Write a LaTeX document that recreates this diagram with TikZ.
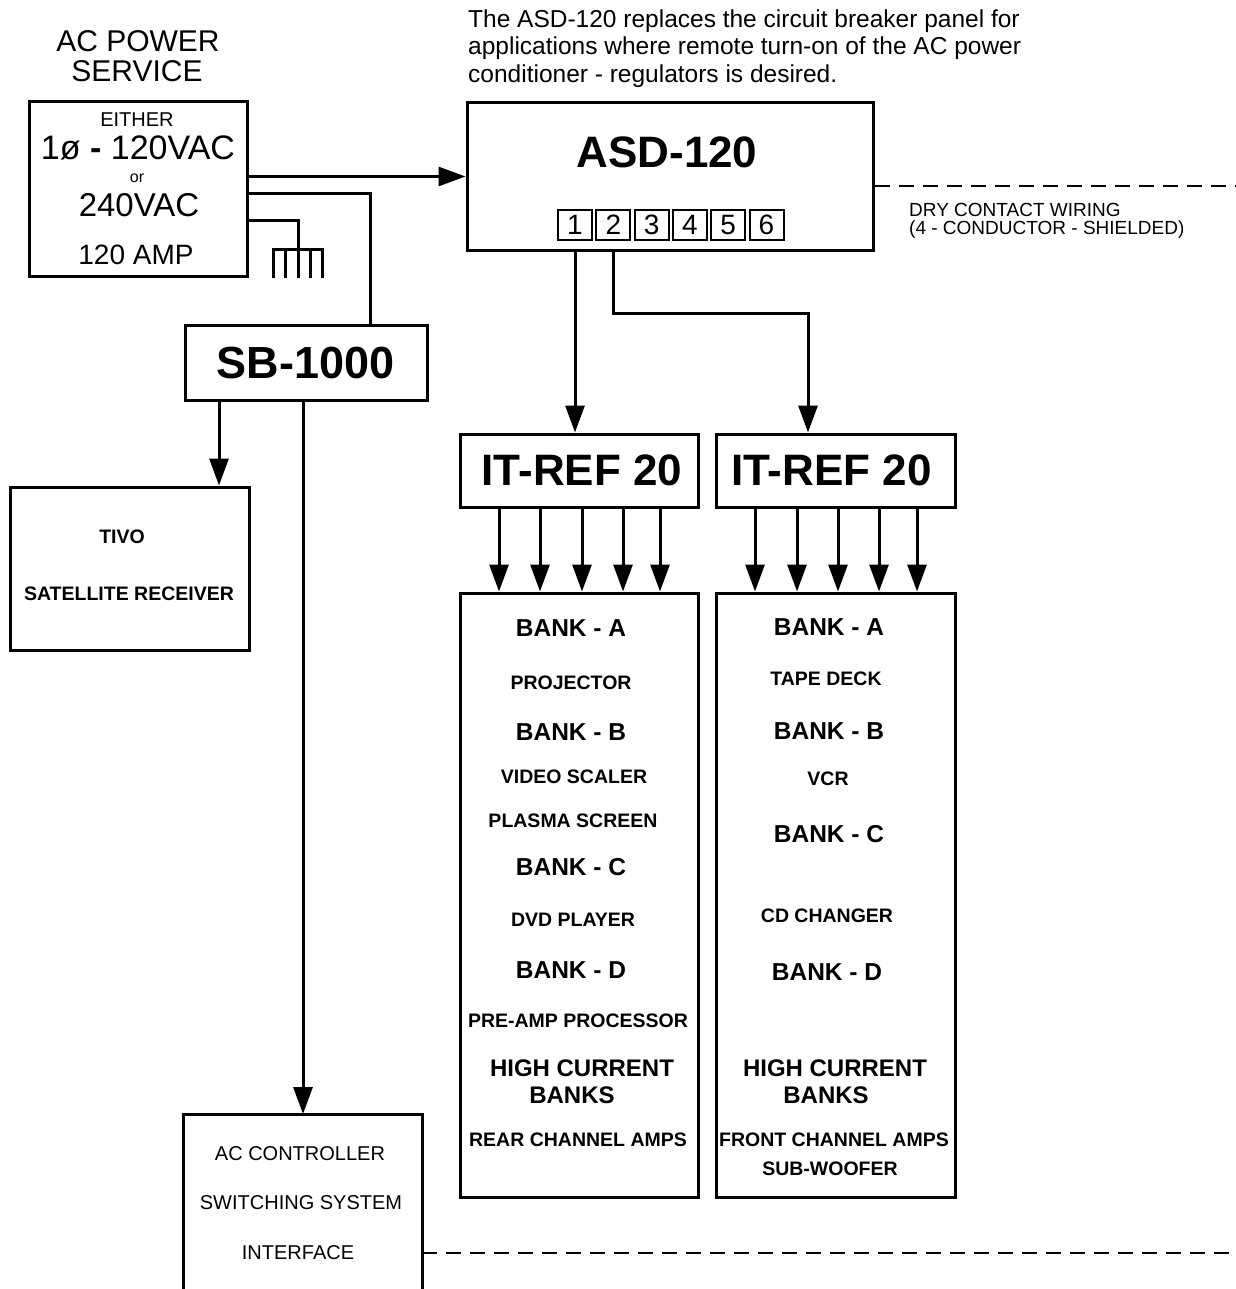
\documentclass[tikz,border=0pt]{standalone}
\usepackage{fontspec}
\setmainfont{Liberation Sans}
\usetikzlibrary{arrows.meta}
\newcommand\myfs[1]{\fontsize{#1}{#1}\selectfont}
\begin{document}
\begin{tikzpicture}[x=1pt,y=-1pt,
  box/.style={draw, line width=3pt, inner sep=0pt},
  pinbox/.style={draw, line width=2pt, minimum width=34pt, minimum height=30pt, inner sep=0pt, font=\myfs{28}},
  wire/.style={line width=3pt},
  arr/.style={line width=3pt, -{Triangle[length=27pt,width=19pt]}},
  dashwire/.style={line width=2.5pt, dash pattern=on 15pt off 9pt},
  lbl/.style={anchor=base, inner sep=0pt, font=\myfs{#1}},
  blbl/.style={anchor=base, inner sep=0pt, font=\bfseries\myfs{#1}},
  wlbl/.style={anchor=base west, inner sep=0pt, font=\myfs{#1}}]
\useasboundingbox (0,0) rectangle (1235,1289);

% ---- boxes ----
\node[box, minimum width=218pt, minimum height=174pt] (ac) at (138,189) {};
\node[box, minimum width=406pt, minimum height=147pt] (asd) at (670,176.5) {};
\node[box, minimum width=242pt, minimum height=75pt] (sb) at (306,362.5) {};
\node[box, minimum width=239pt, minimum height=163pt] (tivo) at (129.5,568.5) {};
\node[box, minimum width=238pt, minimum height=73pt] (it1) at (579,470.5) {};
\node[box, minimum width=239pt, minimum height=73pt] (it2) at (835.5,470.5) {};
\node[box, minimum width=238pt, minimum height=604pt] (bank1) at (579,895) {};
\node[box, minimum width=239pt, minimum height=604pt] (bank2) at (835.5,895) {};
\coordinate (accTL) at (183,1114);
\coordinate (accTR) at (422,1114);
\draw[wire] (183,1293) -- (accTL) -- (accTR) -- (422,1293);

\foreach \i/\x in {1/575,2/613.3,3/651.6,4/689.9,5/728.2,6/766.5}
  \node[pinbox] (p\i) at (\x,225) {\i};

% ---- texts ----
\node[lbl=30] (title1) at (138,52) {AC POWER};
\node[lbl=30] (title2) at (137,82) {SERVICE};
\node[lbl=20] (either) at (137,127) {EITHER};
\node[lbl=34] (volt1) at (138,160) {1ø \textbf{-} 120VAC};
\node[lbl=16] (orr) at (137,183) {or};
\node[lbl=33] (volt2) at (139,217) {240VAC};
\node[lbl=28] (amp) at (136,265) {120 AMP};

\node[wlbl=24.5] (note1) at (468,28) {The ASD-120 replaces the circuit breaker panel for};
\node[wlbl=24.5] (note2) at (468,55) {applications where remote turn-on of the AC power};
\node[wlbl=24.5] (note3) at (468,83) {conditioner - regulators is desired.};

\node[blbl=44] (asdlbl) at (667,168) {ASD-120};
\node[wlbl=19] (dry1) at (909,217) {DRY CONTACT WIRING};
\node[wlbl=19] (dry2) at (909,234) {(4 - CONDUCTOR - SHIELDED)};

\node[blbl=45] (sblbl) at (305.5,378) {SB-1000};
\node[blbl=44] (it1lbl) at (582,485) {IT-REF 20};
\node[blbl=44] (it2lbl) at (831.5,485) {IT-REF 20};

\node[blbl=19.5] (tivo1) at (122,543) {TIVO};
\node[blbl=19.5] (tivo2) at (129,600) {SATELLITE RECEIVER};

\node[lbl=20] (acc1) at (300,1160) {AC CONTROLLER};
\node[lbl=20] (acc2) at (301,1209) {SWITCHING SYSTEM};
\node[lbl=20] (acc3) at (298,1259) {INTERFACE};

% bank 1
\node[blbl=24.5] (a1) at (571,636) {BANK - A};
\node[blbl=19.5] (a2) at (571,689) {PROJECTOR};
\node[blbl=24.5] (a3) at (571,740) {BANK - B};
\node[blbl=19.5] (a4) at (574,783) {VIDEO SCALER};
\node[blbl=19.5] (a5) at (573,827) {PLASMA SCREEN};
\node[blbl=24.5] (a6) at (571,875) {BANK - C};
\node[blbl=19.5] (a7) at (573,926) {DVD PLAYER};
\node[blbl=24.5] (a8) at (571,978) {BANK - D};
\node[blbl=19.5] (a9) at (578,1027) {PRE-AMP PROCESSOR};
\node[blbl=24] (a10) at (582,1076) {HIGH CURRENT};
\node[blbl=24] (a11) at (572,1103) {BANKS};
\node[blbl=19.5] (a12) at (578,1146) {REAR CHANNEL AMPS};

% bank 2
\node[blbl=24.5] (b1) at (829,635) {BANK - A};
\node[blbl=19.5] (b2) at (826,685) {TAPE DECK};
\node[blbl=24.5] (b3) at (829,739) {BANK - B};
\node[blbl=19.5] (b4) at (828,785) {VCR};
\node[blbl=24.5] (b5) at (829,842) {BANK - C};
\node[blbl=19.5] (b6) at (827,922) {CD CHANGER};
\node[blbl=24.5] (b7) at (827,980) {BANK - D};
\node[blbl=24] (b8) at (835,1076) {HIGH CURRENT};
\node[blbl=24] (b9) at (826,1103) {BANKS};
\node[blbl=19.5] (b10) at (834,1146) {FRONT CHANNEL AMPS};
\node[blbl=19.5] (b11) at (830,1175) {SUB-WOOFER};

% ---- connectors ----
\draw[arr] (ac.east |- asd.west) -- (asd.west);
\coordinate (w2) at (370,194);
\draw[wire] (ac.east |- w2) -- (w2) -- (w2 |- sb.north);

% ground
\coordinate (g0) at (298,221);
\coordinate (g1) at (298,249);
\draw[wire] (ac.east |- g0) -- (g0) -- (g1);
\draw[wire] (273,278) -- (273,249) -- (322,249) -- (322,278);
\foreach \x in {285.5,298,310}
  \draw[wire] (\x,249) -- (\x,278);

\draw[arr] (p1 |- asd.south) -- (p1 |- it1.north);
\coordinate (bend) at (808,313);
\draw[arr] (p2 |- asd.south) |- (bend) -- (bend |- it2.north);

\coordinate (s1) at (219,0);
\coordinate (s2) at (303,0);
\draw[arr] (s1 |- sb.south) -- (s1 |- tivo.north);
\draw[arr] (s2 |- sb.south) -- (s2 |- accTL);

\foreach \x [count=\i] in {499,540,582,623,660} {
  \coordinate (ua\i) at (\x,0);
  \draw[arr] (ua\i |- it1.south) -- (ua\i |- bank1.north);
}
\foreach \x [count=\i] in {755,797,838,879,917} {
  \coordinate (ub\i) at (\x,0);
  \draw[arr] (ub\i |- it2.south) -- (ub\i |- bank2.north);
}

\coordinate (dr) at (1235,186);
\draw[dashwire] (asd.east |- dr) -- (dr);
\coordinate (dr2) at (1235,1253);
\draw[dashwire] (accTR |- dr2) -- (dr2);
\end{tikzpicture}
\end{document}
